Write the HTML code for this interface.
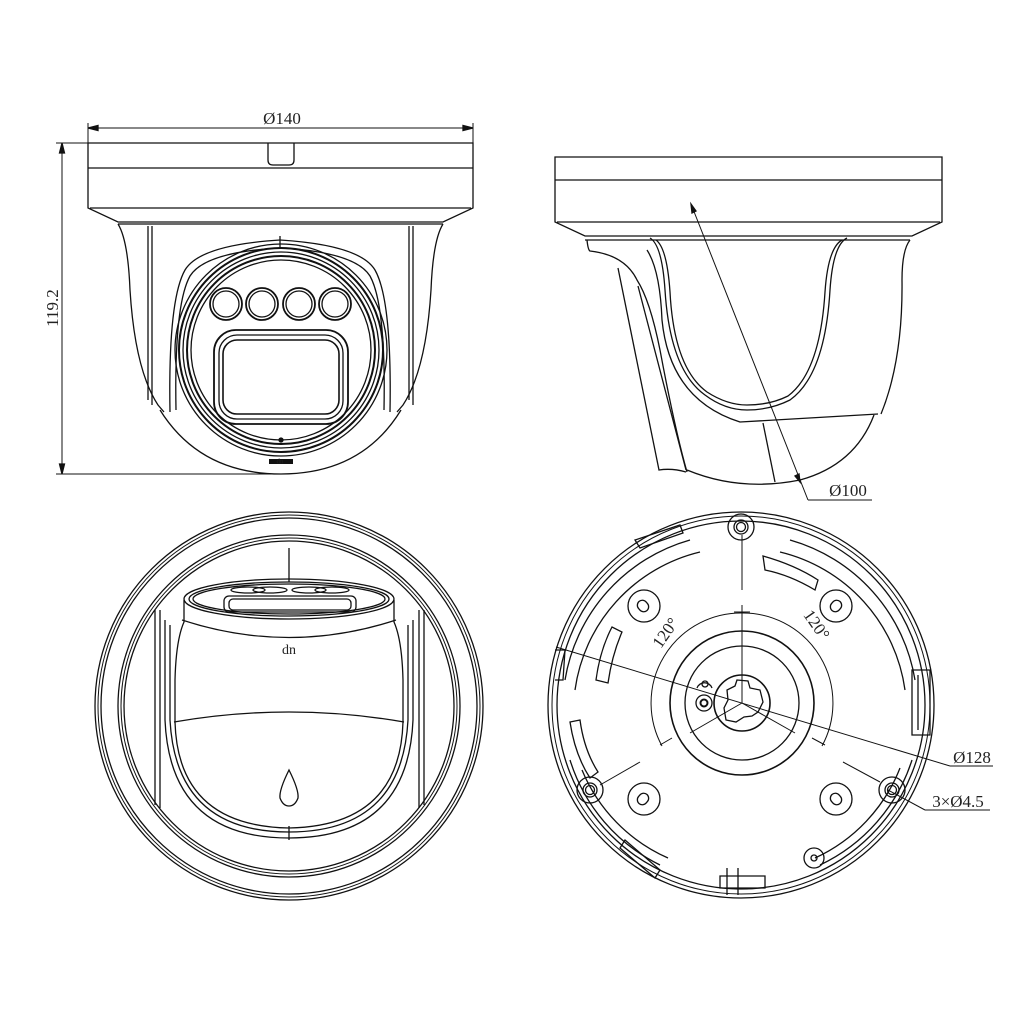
<!DOCTYPE html>
<html><head><meta charset="utf-8"><style>
html,body{margin:0;padding:0;background:#fff;}
svg{display:block;}
text{font-family:"Liberation Serif",serif;fill:#222;}
</style></head><body>
<svg width="1024" height="1024" viewBox="0 0 1024 1024" xmlns="http://www.w3.org/2000/svg">
<g fill="none" stroke="#111" stroke-width="1.3">
<!-- ===== TOP LEFT: front view ===== -->
<line x1="88" y1="128" x2="473" y2="128" stroke-width="1"/>
<line x1="88" y1="123" x2="88" y2="145" stroke-width="1"/>
<line x1="473" y1="123" x2="473" y2="145" stroke-width="1"/>
<path d="M88 128 l10 -2.5 v5 z M473 128 l-10 -2.5 v5 z" fill="#111"/>
<line x1="62" y1="143" x2="62" y2="474" stroke-width="1"/>
<line x1="56" y1="143" x2="88" y2="143" stroke-width="1"/>
<line x1="56" y1="474" x2="282" y2="474" stroke-width="1"/>
<path d="M62 143 l-2.5 10 h5 z M62 474 l-2.5 -10 h5 z" fill="#111"/>
<path d="M88 143 H473 V208 L443 222 H118 L88 208 Z"/>
<line x1="88" y1="168" x2="473" y2="168"/>
<line x1="90" y1="208" x2="471" y2="208"/>
<path d="M268 143 V160 Q268 165 273 165 H289 Q294 165 294 160 V143"/>
<path d="M118 224 Q128 240 130 290 Q135 370 158 405 L164 412"/>
<path d="M443 224 Q433 240 431 290 Q426 370 403 405 L397 412"/>
<path d="M118 224 H443"/>
<line x1="148" y1="226" x2="148" y2="400"/><line x1="152" y1="226" x2="152" y2="405"/>
<line x1="409" y1="226" x2="409" y2="400"/><line x1="413" y1="226" x2="413" y2="405"/>
<path d="M160 410 Q200 474 281 474 Q362 474 401 410"/>
<path d="M170 412 Q168 300 185 270 Q200 245 280 240 Q360 245 375 270 Q392 300 390 412"/>
<path d="M176 410 Q174 305 190 276 Q205 252 280 248 Q355 252 370 276 Q386 305 384 410"/>
<line x1="280" y1="236" x2="280" y2="248"/>
<circle cx="281" cy="350" r="106"/>
<circle cx="281" cy="350" r="102" stroke-width="2"/>
<circle cx="281" cy="350" r="98"/>
<circle cx="281" cy="350" r="94" stroke-width="2"/>
<circle cx="281" cy="350" r="90"/>
<circle cx="226" cy="304" r="16" stroke-width="1.8"/><circle cx="226" cy="304" r="13"/>
<circle cx="262" cy="304" r="16" stroke-width="1.8"/><circle cx="262" cy="304" r="13"/>
<circle cx="299" cy="304" r="16" stroke-width="1.8"/><circle cx="299" cy="304" r="13"/>
<circle cx="335" cy="304" r="16" stroke-width="1.8"/><circle cx="335" cy="304" r="13"/>
<rect x="214" y="330" width="134" height="94" rx="22" stroke-width="1.8"/>
<rect x="219" y="335" width="124" height="84" rx="18"/>
<rect x="223" y="340" width="116" height="74" rx="14" stroke-width="1.6"/>
<circle cx="281" cy="440" r="2" fill="#111"/>
<rect x="269" y="459" width="24" height="5" fill="#111" stroke="none"/>
<!-- ===== TOP RIGHT: side view ===== -->
<path d="M555 157 H942 V222 L912 236 H585 L555 222 Z"/>
<line x1="555" y1="180" x2="942" y2="180"/>
<line x1="557" y1="222" x2="940" y2="222"/>
<line x1="585" y1="240" x2="910" y2="240"/>
<path d="M910 240 Q902 250 902 280 Q903 360 881 414"/>
<path d="M874 415 Q855 465 800 480 Q740 492 687 470"/>
<path d="M587 240 Q588 250 590 251 Q625 255 637 280 Q650 300 660 350 Q675 430 687 472"/>
<path d="M618 268 L659 470 Q672 468 686 472"/>
<path d="M638 286 L686 470"/>
<path d="M650 238 Q662 245 665 290 Q670 370 705 395 Q725 410 747 410 Q770 410 790 400 Q825 375 830 290 Q833 245 847 238"/>
<path d="M656 240 Q667 248 670 292 Q674 368 707 392 Q727 405 747 405 Q770 405 788 396 Q820 372 825 292 Q828 248 842 240"/>
<path d="M647 250 Q660 270 662 320 Q670 400 740 422 L878 414"/>
<line x1="763" y1="423" x2="775" y2="482"/>
<line x1="691" y1="204" x2="808" y2="500" stroke-width="1"/>
<line x1="808" y1="500" x2="872" y2="500" stroke-width="1"/>
<path d="M691 204 l1 9 l4 -2 z M800 482 l-1 -8 l-4 2 z" fill="#111"/>
<!-- ===== BOTTOM LEFT ===== -->
<circle cx="289" cy="706" r="194"/>
<circle cx="289" cy="706" r="191" stroke-width="1"/>
<circle cx="289" cy="706" r="188"/>
<circle cx="289" cy="706" r="171"/>
<circle cx="289" cy="706" r="168" stroke-width="1"/>
<circle cx="289" cy="706" r="165"/>
<line x1="155" y1="610" x2="155" y2="805"/><line x1="160" y1="610" x2="160" y2="808"/>
<line x1="419" y1="610" x2="419" y2="808"/><line x1="424" y1="610" x2="424" y2="805"/>
<line x1="289" y1="548" x2="289" y2="582"/>
<path d="M165 620 V720 Q170 838 289 838 Q408 838 413 720 V620"/>
<path d="M170 625 V720 Q176 832 289 832 Q402 832 408 720 V625"/>
<ellipse cx="289" cy="599" rx="105" ry="20"/>
<ellipse cx="289" cy="599" rx="100" ry="17"/>
<ellipse cx="289" cy="599" rx="96" ry="15"/>
<ellipse cx="248" cy="590" rx="17" ry="3"/><ellipse cx="270" cy="590" rx="17" ry="3"/><ellipse cx="309" cy="590" rx="17" ry="3"/><ellipse cx="332" cy="590" rx="17" ry="3"/>
<rect x="224" y="596" width="132" height="16" rx="5"/>
<rect x="229" y="599" width="122" height="11" rx="4"/>
<path d="M184 600 V622 Q176 640 175 680 V722"/>
<path d="M394 600 V622 Q402 640 403 680 V722"/>
<path d="M182 620 Q289 655 396 620"/>
<path d="M174 722 Q289 702 404 722"/>
<path d="M175 722 Q178 826 289 828 Q400 826 403 722"/>
<line x1="289" y1="826" x2="289" y2="840"/>
<path d="M289 770 Q279 790 280 798 Q283 806 289 806 Q295 806 298 798 Q299 790 289 770 Z"/>
<!-- ===== BOTTOM RIGHT ===== -->
<circle cx="741" cy="705" r="193"/>
<circle cx="741" cy="705" r="189" stroke-width="1"/>
<circle cx="741" cy="705" r="184"/>
<path d="M565 680 A175 175 0 0 1 690 540"/>
<path d="M790 540 A175 175 0 0 1 915 680"/>
<path d="M912 760 A175 175 0 0 1 820 865"/>
<path d="M660 865 A175 175 0 0 1 570 760"/>
<path d="M575 690 A165 165 0 0 1 700 552"/>
<path d="M780 552 A165 165 0 0 1 905 690"/>
<path d="M900 768 A165 165 0 0 1 815 858"/>
<path d="M668 858 A165 165 0 0 1 582 770"/>
<path d="M742 613 A90 90 0 0 0 662 746" stroke-width="1"/>
<path d="M742 613 A90 90 0 0 1 822 746" stroke-width="1"/>
<circle cx="742" cy="703" r="72" stroke-width="1.6"/>
<circle cx="742" cy="703" r="57"/>
<circle cx="742" cy="703" r="28" stroke-width="1.6"/>
<path d="M737 680 L748 681 L750 688 L760 690 L763 702 L758 712 L752 716 L744 717 L736 722 L726 720 L724 708 L728 700 L727 690 L735 686 Z"/>
<circle cx="704" cy="703" r="8"/><circle cx="704" cy="703" r="3.5" stroke-width="2"/>
<path d="M697 688 A8 8 0 0 1 712 688"/><circle cx="705" cy="684" r="3"/>
<line x1="742" y1="535" x2="742" y2="590" stroke-width="1"/>
<line x1="742" y1="605" x2="742" y2="703" stroke-width="1"/>
<line x1="742" y1="703" x2="690" y2="733" stroke-width="1"/>
<line x1="742" y1="703" x2="795" y2="733" stroke-width="1"/>
<line x1="640" y1="762" x2="600" y2="785" stroke-width="1"/>
<line x1="843" y1="762" x2="880" y2="782" stroke-width="1"/>
<line x1="660" y1="745" x2="672" y2="738" stroke-width="1"/>
<line x1="812" y1="738" x2="825" y2="745" stroke-width="1"/>
<line x1="734" y1="612" x2="750" y2="612" stroke-width="1"/>
<line x1="556" y1="647" x2="950" y2="766" stroke-width="1"/>
<line x1="950" y1="766" x2="993" y2="766" stroke-width="1"/>
<line x1="888" y1="790" x2="925" y2="810" stroke-width="1"/>
<line x1="925" y1="810" x2="990" y2="810" stroke-width="1"/>
<circle cx="741" cy="527" r="13"/><circle cx="741" cy="527" r="7"/><circle cx="741" cy="527" r="4.5"/>
<circle cx="590" cy="790" r="13"/><circle cx="590" cy="790" r="7"/><circle cx="590" cy="790" r="4.5"/>
<circle cx="892" cy="790" r="13"/><circle cx="892" cy="790" r="7"/><circle cx="892" cy="790" r="4.5"/>
<circle cx="644" cy="606" r="16"/><rect x="638" y="600" width="10" height="12" rx="5" transform="rotate(-40 643 606)"/>
<circle cx="836" cy="606" r="16"/><rect x="831" y="600" width="10" height="12" rx="5" transform="rotate(40 836 606)"/>
<circle cx="644" cy="799" r="16"/><rect x="638" y="793" width="10" height="12" rx="5" transform="rotate(40 643 799)"/>
<circle cx="836" cy="799" r="16"/><rect x="831" y="793" width="10" height="12" rx="5" transform="rotate(-40 836 799)"/>
<circle cx="814" cy="858" r="10"/><circle cx="814" cy="858" r="3"/>
<path d="M763 556 Q795 565 818 580 L815 590 Q790 575 765 570 Z"/>
<path d="M612 627 Q600 650 596 680 L608 683 Q612 655 622 632 Z"/>
<path d="M570 722 Q575 755 590 778 L598 772 Q584 750 580 720 Z"/>
<path d="M720 876 H765 V888 H720 Z"/><path d="M727 868 V895 M738 868 V895"/>
<path d="M625 840 L660 870 L655 878 L620 848 Z"/>
<path d="M635 540 L680 525 L683 533 L640 548 Z"/>
<path d="M912 670 H930 V735 H912 Z"/><path d="M918 675 V730"/>
<path d="M555 650 L565 650 L563 680 L555 680"/>
</g>
<text x="282" y="124" font-size="17" text-anchor="middle">Ø140</text>
<text x="0" y="0" font-size="17" text-anchor="middle" transform="translate(58 308) rotate(-90)">119.2</text>
<text x="848" y="496" font-size="17" text-anchor="middle">Ø100</text>
<text x="972" y="763" font-size="17" text-anchor="middle">Ø128</text>
<text x="958" y="807" font-size="17" text-anchor="middle">3×Ø4.5</text>
<text x="0" y="0" font-size="17" text-anchor="middle" transform="translate(670 636) rotate(-55)">120°</text>
<text x="0" y="0" font-size="17" text-anchor="middle" transform="translate(812 628) rotate(55)">120°</text>
<text x="289" y="654" font-size="14" text-anchor="middle" font-family="Liberation Sans, sans-serif">dn</text>
<text x="280" y="466" font-size="7" text-anchor="middle" font-family="Liberation Sans, sans-serif" transform="rotate(180 280 463)">up</text>
</svg>
</body></html>
